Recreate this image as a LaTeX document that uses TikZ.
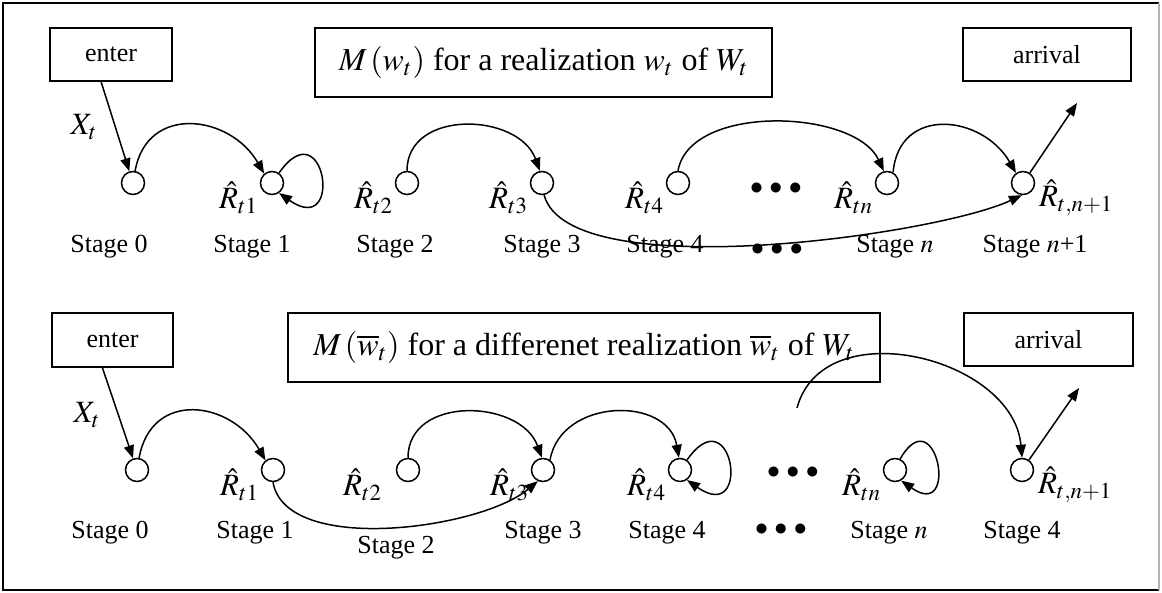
\documentclass[tikz,border=0pt]{standalone}
\usepackage{mathptmx}
\usepackage[no-math]{fontspec}
\setmainfont{Liberation Serif}
\usetikzlibrary{arrows.meta, positioning}

\begin{document}
\begin{tikzpicture}[x=0.5pt, y=0.5pt, line width=0.75pt,
    every node/.style={font=\fontsize{13}{15}\selectfont},
    stnode/.style={circle, draw, minimum size=11.5pt, inner sep=0pt},
    boxnode/.style={draw, minimum height=26.5pt, inner sep=0pt},
    titlebox/.style={draw, minimum height=34.5pt, inner sep=0pt, font=\fontsize{16}{19}\selectfont},
    rlab/.style={inner sep=0.5pt, font=\fontsize{15.5}{18}\selectfont},
    dotsnode/.style={inner sep=0pt},
    arr/.style={-{Triangle[length=6.5pt,width=5pt]}}]
  \useasboundingbox (0,0) rectangle (1162,593);

  % frame
  \draw[line width=1pt] (1159,3) -- (3,3) -- (3,590) -- (1159,590);
  \draw[gray!60] (1159,3) -- (1159,590);

  % top: boxes
  \node[boxnode, minimum width=61pt] (ent1) at (111,538.5) {enter};
  \node[titlebox, minimum width=228.5pt] (tit1) at (543.5,530.5) {$M\,(w_t)$ for a realization $w_t$ of $W_t$};
  \node[boxnode, minimum width=84pt] (arv1) at (1047,538.5) {arrival};
  \node[rlab] (xt1) at (84,466) {$X_t$};

  % top: stages
  \node[stnode] (a0) at (133,410) {};
  \node[stnode] (a1) at (272,410) {};
  \node[stnode] (a2) at (407,410) {};
  \node[stnode] (a3) at (542,410) {};
  \node[stnode] (a4) at (678,410) {};
  \node[stnode] (an) at (887,410) {};
  \node[stnode] (an1) at (1023,410) {};
  \node[rlab, left=0pt of a1, yshift=-7.5pt] (ra1) {$\hat{R}_{t1}$};
  \node[rlab, left=0pt of a2, yshift=-7.5pt] (ra2) {$\hat{R}_{t2}$};
  \node[rlab, left=0pt of a3, yshift=-7.5pt] (ra3) {$\hat{R}_{t3}$};
  \node[rlab, left=0pt of a4, yshift=-7.5pt] (ra4) {$\hat{R}_{t4}$};
  \node[rlab, left=0pt of an, yshift=-7.5pt] (ran) {$\hat{R}_{tn}$};
  \node[rlab, right=1pt of an1, yshift=-7.5pt] (ran1) {$\hat{R}_{t,n+1}$};
  \node[dotsnode] (da1) at (776,404) {$\bullet\mkern2mu\bullet\mkern2mu\bullet$};
  \node[dotsnode] (da2) at (777,343) {$\bullet\mkern2mu\bullet\mkern2mu\bullet$};

  \node (sa0) at (109,346) {Stage 0};
  \node (sa1) at (252,346) {Stage 1};
  \node (sa2) at (395,346) {Stage 2};
  \node (sa3) at (542,346) {Stage 3};
  \node (sa4) at (665,346) {Stage 4};
  \node (san) at (895,346) {Stage $n$};
  \node (san1) at (1035,346) {Stage $n$+1};

  \coordinate (out1) at (1077,490);
  \draw[arr] (ent1.250) -- (a0);
  \draw[arr] (a0.80) to[out=80,in=120,looseness=1.35] (a1.130);
  \draw[arr] (a1.55) to[out=55,in=-35,min distance=40pt] (a1.-55);
  \draw[arr] (a2.north) to[out=90,in=110,looseness=1.2] (a3.100);
  \draw[arr] (a4.north) to[out=80,in=115,looseness=0.85] (an.105);
  \draw[arr] (an.60) to[out=85,in=120,looseness=1.4] (an1.125);
  \draw[arr] (a3.-80) to[out=-75,in=205,looseness=0.51] (an1.-95);
  \draw[arr] (an1) -- (out1);

  % bottom: boxes
  \node[boxnode, minimum width=60.5pt, minimum height=27pt] (ent2) at (112.5,253) {enter};
  \node[titlebox, minimum width=296pt] (tit2) at (584,245.5) {$M\,(\overline{w}_t)$ for a differenet realization $\overline{w}_t$ of $W_t$};
  \node[boxnode, minimum width=84.5pt] (arv2) at (1048.5,253.5) {arrival};
  \node[rlab] (xt2) at (87,178) {$X_t$};

  % bottom: stages
  \node[stnode] (b0) at (137,123) {};
  \node[stnode] (b1) at (273,123) {};
  \node[stnode] (b2) at (408,123) {};
  \node[stnode] (b3) at (543,123) {};
  \node[stnode] (b4) at (680,123) {};
  \node[stnode] (bn) at (895,123) {};
  \node[stnode] (bn1) at (1022,123) {};
  \node[rlab, left=0pt of b1, yshift=-7.5pt] (rb1) {$\hat{R}_{t1}$};
  \node[rlab, left=6pt of b2, yshift=-7.5pt] (rb2) {$\hat{R}_{t2}$};
  \node[rlab, left=0pt of b3, yshift=-7.5pt] (rb3) {$\hat{R}_{t3}$};
  \node[rlab, left=0pt of b4, yshift=-7.5pt] (rb4) {$\hat{R}_{t4}$};
  \node[rlab, left=0pt of bn, yshift=-7.5pt] (rbn) {$\hat{R}_{tn}$};
  \node[rlab, right=1pt of bn1, yshift=-7.5pt] (rbn1) {$\hat{R}_{t,n+1}$};
  \node[dotsnode] (db1) at (793,120) {$\bullet\mkern2mu\bullet\mkern2mu\bullet$};
  \node[dotsnode] (db2) at (781,63) {$\bullet\mkern2mu\bullet\mkern2mu\bullet$};

  \node (sb0) at (110,60) {Stage 0};
  \node (sb1) at (255,60) {Stage 1};
  \node (sb2) at (396,45) {Stage 2};
  \node (sb3) at (543,60) {Stage 3};
  \node (sb4) at (667,60) {Stage 4};
  \node (sbn) at (889,60) {Stage $n$};
  \node (sbn1) at (1022,60) {Stage 4};

  \coordinate (in2) at (797,185);
  \coordinate (out2) at (1079,205);
  \draw[arr] (ent2.250) -- (b0);
  \draw[arr] (b0.80) to[out=80,in=120,looseness=1.4] (b1.128);
  \draw[arr] (b1.south) to[out=-80,in=220,looseness=0.72] (b3.-115);
  \draw[arr] (b2.north) to[out=90,in=110,looseness=1.2] (b3.95);
  \draw[arr] (b3.55) to[out=80,in=100,looseness=1.25] (b4.95);
  \draw[arr] (b4.55) to[out=55,in=-35,min distance=40pt] (b4.-55);
  \draw[arr] (bn.65) to[out=60,in=-35,min distance=36pt] (bn.-60);
  \draw[arr] (in2) to[out=75,in=95,looseness=1.12] (bn1.north);
  \draw[arr] (bn1) -- (out2);
\end{tikzpicture}
\end{document}
